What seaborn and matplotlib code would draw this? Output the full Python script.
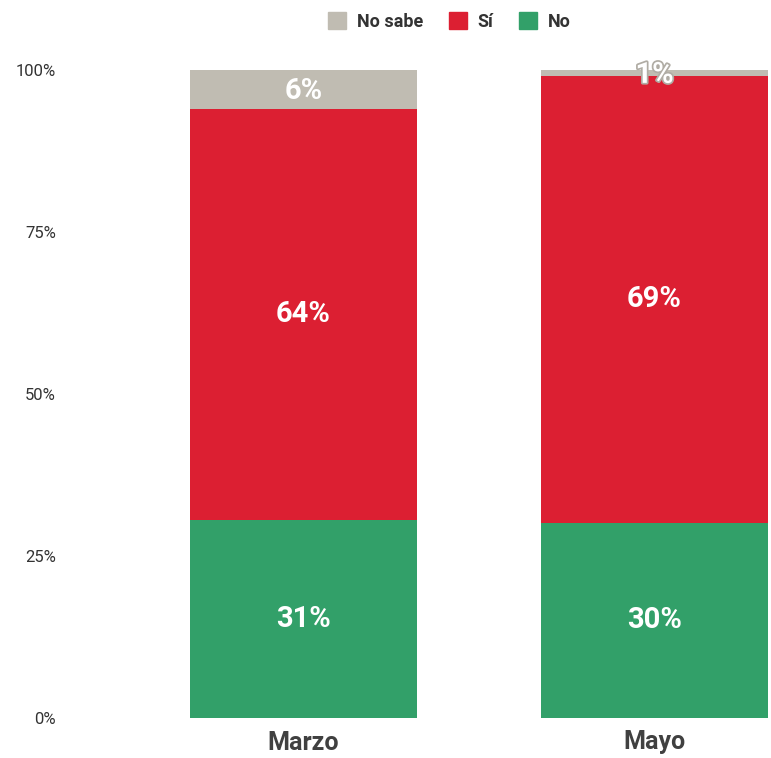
import pandas as pd
import numpy as np
import matplotlib
matplotlib.use('Agg')
import matplotlib.pyplot as plt
import matplotlib.patches as mpatches
import matplotlib.patheffects as pe
import seaborn as sns

#data
months = ['Marzo', 'Mayo']
no_vals = [30.6, 30.1]
si_vals = [63.4, 69.0]
nosabe_vals = [6.0, 0.9]
no_labels = ['31%', '30%']
si_labels = ['64%', '69%']
nosabe_labels = ['6%', '1%']

col_no = '#32A069'
col_si = '#DC1F32'
col_nosabe = '#C0BCB2'

df = pd.DataFrame({'Mes': months, 'No': no_vals, 'Si': si_vals, 'NoSabe': nosabe_vals})
df['NoSi'] = df['No'] + df['Si']
df['Total'] = df['NoSi'] + df['NoSabe']

sns.set_style('white')
plt.rcParams['font.family'] = ['Roboto', 'DejaVu Sans']

fig = plt.figure(figsize=(7.71, 7.58), dpi=100)
ax = fig.add_axes([70 / 771, 40 / 758, 701 / 771, 648 / 758])

#stacked bars drawn as overlapping cumulative totals
sns.barplot(data=df, x='Mes', y='Total', color=col_nosabe, width=0.647, saturation=1, linewidth=0, ax=ax)
sns.barplot(data=df, x='Mes', y='NoSi', color=col_si, width=0.647, saturation=1, linewidth=0, ax=ax)
sns.barplot(data=df, x='Mes', y='No', color=col_no, width=0.647, saturation=1, linewidth=0, ax=ax)

#segment labels
for i in range(len(months)):
    ax.text(i, no_vals[i] / 2, no_labels[i], ha='center', va='center', color='white',
            fontsize=21, fontweight='bold')
    ax.text(i, no_vals[i] + si_vals[i] / 2, si_labels[i], ha='center', va='center', color='white',
            fontsize=21, fontweight='bold')
    t = ax.text(i, no_vals[i] + si_vals[i] + nosabe_vals[i] / 2 - 0.3, nosabe_labels[i], ha='center',
                va='center', color='white', fontsize=21, fontweight='bold')
    if nosabe_vals[i] < 3:
        t.set_path_effects([pe.withStroke(linewidth=2.5, foreground='#B0ACA4')])

ax.set_xlim(-0.665, 1.332)
ax.set_ylim(0, 100)
ax.set_yticks([0, 25, 50, 75, 100])
ax.set_yticklabels(['0%', '25%', '50%', '75%', '100%'], fontsize=12, color='#333333')
ax.set_xticklabels(months, fontsize=18, fontweight='bold', color='#404040')
ax.tick_params(axis='y', length=0, pad=10)
ax.tick_params(axis='x', length=0, pad=9)
ax.set_xlabel('')
ax.set_ylabel('')
sns.despine(ax=ax, left=True, bottom=True)

#legend
handles = [mpatches.Patch(color=col_nosabe, label='No sabe'),
           mpatches.Patch(color=col_si, label='Sí'),
           mpatches.Patch(color=col_no, label='No')]
leg = fig.legend(handles=handles, loc='upper center', bbox_to_anchor=(0.583, 1.005), ncol=3,
                 frameon=False, handlelength=1.0, handleheight=1.0, handletextpad=0.6,
                 columnspacing=1.4, prop={'weight': 'bold', 'size': 13})
for txt in leg.get_texts():
    txt.set_color('#333333')

fig.savefig('out.png', dpi=100)
